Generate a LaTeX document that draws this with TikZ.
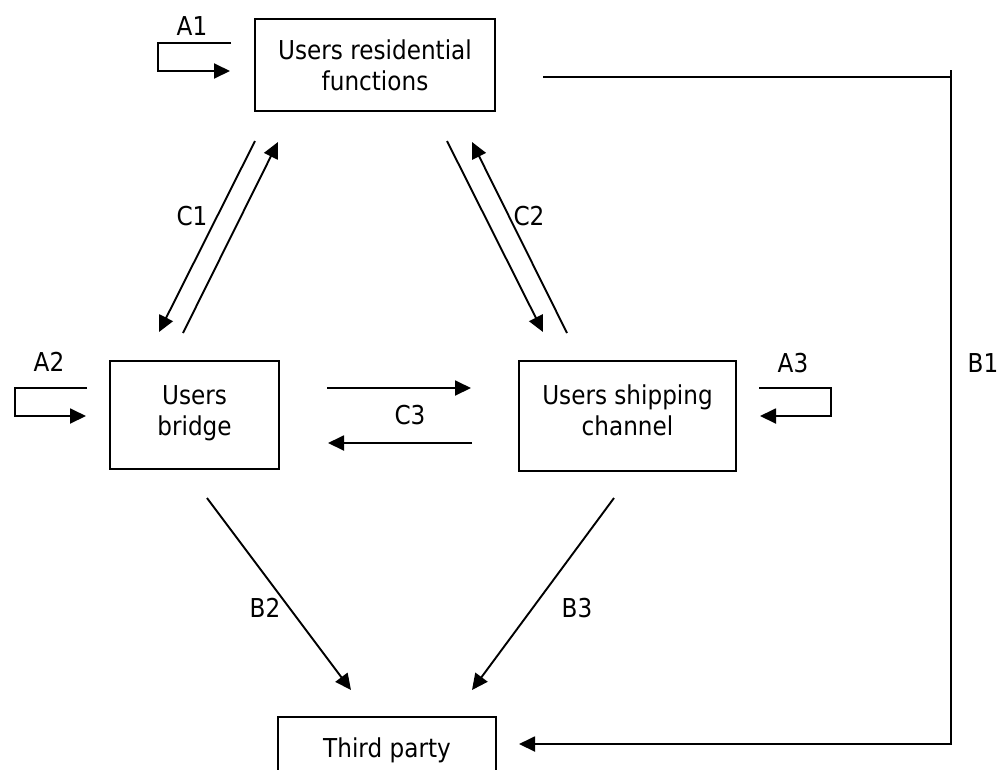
\documentclass[tikz,border=0pt]{standalone}
\usepackage{fontspec}
\setmainfont[FakeStretch=0.89]{DejaVu Sans}
\usetikzlibrary{arrows.meta}
\begin{document}
\begin{tikzpicture}[x=1pt,y=-1pt,
  box/.style={draw, line width=1.9pt, inner sep=0pt},
  txt/.style={align=center, inner sep=0pt, font=\fontsize{26}{31}\selectfont},
  lbl/.style={inner sep=0pt, font=\fontsize{26}{31}\selectfont},
  conn/.style={line width=1.9pt, -{Triangle[length=16pt,width=15pt]}},
  plainline/.style={line width=1.9pt}]
\fill[white] (0,0) rectangle (1003,769);
\useasboundingbox (0,0) rectangle (1003,769);
\clip (0,0) rectangle (1003,769);

% boxes
\node[box, minimum width=240, minimum height=92] (R) at (375,65) {};
\node[box, minimum width=169, minimum height=108] (UB) at (194.5,415) {};
\node[box, minimum width=217, minimum height=110] (USC) at (627.5,416) {};
\node[box, minimum width=218, minimum height=86] (TP) at (387,760) {};

% box texts
\node[txt] (Rt) at (375,65.5) {Users residential\\functions};
\node[txt] (UBt) at (194.5,413.5) {Users\\bridge};
\node[txt] (USCt) at (627.5,410) {Users shipping\\channel};
\node[txt] (TPt) at (387,750) {Third party};

% labels
\node[lbl] (A1) at (192,26) {A1};
\node[lbl] (A2) at (49,362) {A2};
\node[lbl] (A3) at (793,363) {A3};
\node[lbl] (B1) at (983,363) {B1};
\node[lbl] (B2) at (265,608) {B2};
\node[lbl] (B3) at (577,608) {B3};
\node[lbl] (C1) at (192,216) {C1};
\node[lbl] (C2) at (529,216) {C2};
\node[lbl] (C3) at (410,415) {C3};

% connector end points
\coordinate (a1s) at (231,43);  \coordinate (a1e) at (230,71);
\coordinate (a2s) at (87,388);  \coordinate (a2e) at (86,416);
\coordinate (a3s) at (759,388); \coordinate (a3e) at (760,416);
\coordinate (c1a) at (255,141); \coordinate (c1b) at (159,332);
\coordinate (c1c) at (183,333); \coordinate (c1d) at (278,142);
\coordinate (c2a) at (447,141); \coordinate (c2b) at (543,332);
\coordinate (c2c) at (567,333); \coordinate (c2d) at (472,142);
\coordinate (c3a) at (327,388); \coordinate (c3b) at (471,388);
\coordinate (c3c) at (472,443); \coordinate (c3d) at (328,443);
\coordinate (b2a) at (207,498); \coordinate (b2b) at (351,690);
\coordinate (b3a) at (614,498); \coordinate (b3b) at (472,690);
\coordinate (b1a) at (543,77);  \coordinate (b1c) at (951,77);
\coordinate (b1t) at (951,70);  \coordinate (b1d) at (951,744);
\coordinate (b1e) at (519,744);

% self loops
\draw[conn] (a1s) -- ++(-73,0) |- (a1e);
\draw[conn] (a2s) -- ++(-72,0) |- (a2e);
\draw[conn] (a3s) -- ++(72,0) |- (a3e);

% C connectors
\draw[conn] (c1a) -- (c1b);
\draw[conn] (c1c) -- (c1d);
\draw[conn] (c2a) -- (c2b);
\draw[conn] (c2c) -- (c2d);
\draw[conn] (c3a) -- (c3b);
\draw[conn] (c3c) -- (c3d);

% B connectors
\draw[conn] (b2a) -- (b2b);
\draw[conn] (b3a) -- (b3b);
\draw[plainline] (b1a) -- (b1c);
\draw[conn] (b1t) -- (b1d) -- (b1e);
\end{tikzpicture}
\end{document}
